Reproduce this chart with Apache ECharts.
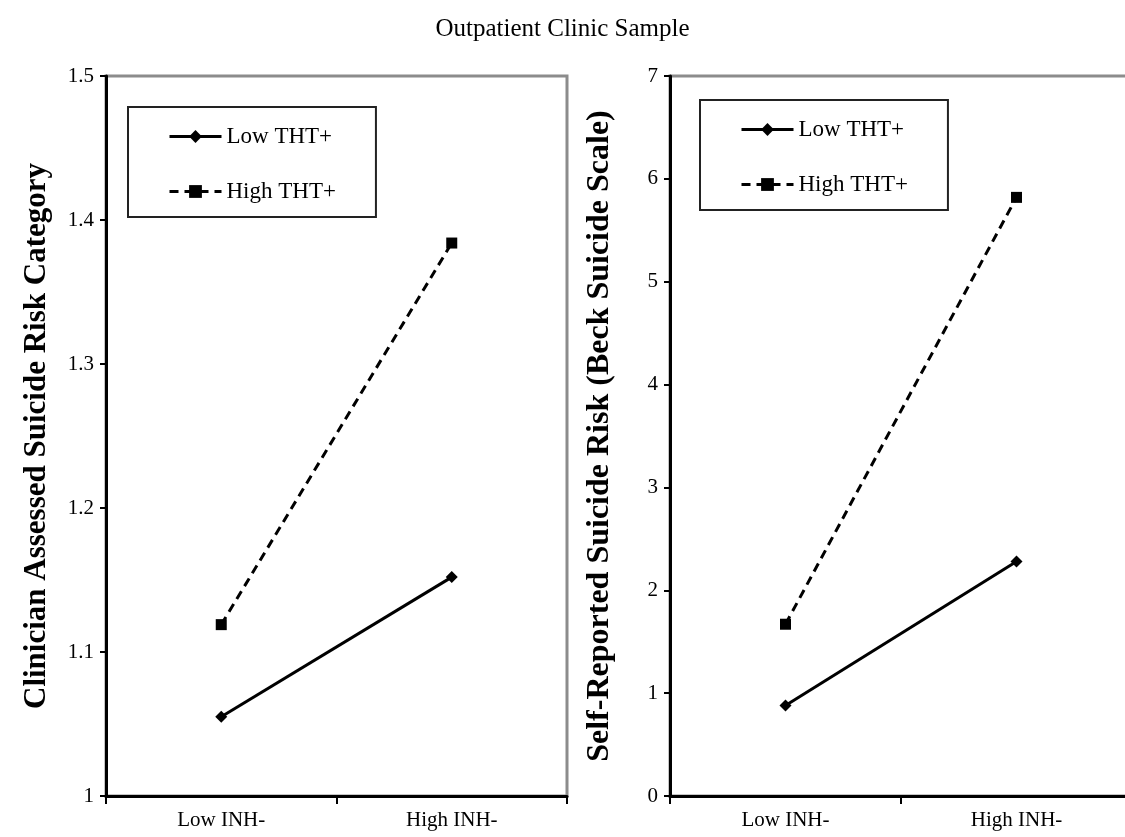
<!DOCTYPE html>
<html>
<head>
<meta charset="utf-8">
<script src="https://cdn.jsdelivr.net/npm/echarts@6/dist/echarts.min.js"></script>
<style>
  html, body { margin: 0; padding: 0; background: #fff; }
  #chart { width: 1125px; height: 837px; }
</style>
</head>
<body>
<div id="chart"></div>
<script>
// categories on both x axes
const categories = ["Low INH-", "High INH-"];
const seriesNames = ["Low THT+", "High THT+"];

// left panel: clinician assessed risk
const clinLowTHT = [1.055, 1.152];
const clinHighTHT = [1.119, 1.384];

// right panel: self-reported risk
const selfLowTHT = [0.88, 2.28];
const selfHighTHT = [1.67, 5.82];

const font = "Liberation Serif, Times New Roman, serif";

function yAxis(gridIndex, min, max, interval, name, nameSize) {
  return {
    type: "value",
    gridIndex: gridIndex,
    min: min,
    max: max,
    interval: interval,
    name: name,
    nameLocation: "middle",
    nameGap: 54,
    nameTextStyle: { fontFamily: font, fontWeight: "bold", fontSize: nameSize, color: "#000" },
    splitLine: { show: false },
    axisLine: { show: true, lineStyle: { color: "#000", width: 3 } },
    axisTick: { show: true, length: 6, lineStyle: { color: "#000", width: 2 } },
    axisLabel: { fontFamily: font, fontSize: 21, color: "#000", margin: 12 }
  };
}

function xAxis(gridIndex) {
  return {
    type: "category",
    gridIndex: gridIndex,
    data: categories,
    boundaryGap: true,
    axisLine: { lineStyle: { color: "#000", width: 3 } },
    axisTick: { show: true, length: 8, lineStyle: { color: "#000", width: 2 } },
    axisLabel: { fontFamily: font, fontSize: 21, color: "#000", margin: 14 }
  };
}

function lineSeries(name, idx, data, dashed) {
  return {
    name: name,
    type: "line",
    xAxisIndex: idx,
    yAxisIndex: idx,
    data: data,
    symbol: dashed ? "rect" : "diamond",
    symbolSize: dashed ? 11 : 12,
    itemStyle: { color: "#000" },
    lineStyle: { color: "#000", width: 3, type: dashed ? [9, 6] : "solid" }
  };
}

function legend(left, top) {
  return {
    data: seriesNames,
    orient: "vertical",
    left: left,
    top: top,
    itemWidth: 52,
    itemHeight: 16,
    itemGap: 32,
    padding: [18, 40, 14, 40],
    backgroundColor: "#fff",
    borderColor: "#222",
    borderWidth: 2,
    selectedMode: false,
    lineStyle: { width: 3 },
    textStyle: { fontFamily: font, fontSize: 23, color: "#000" }
  };
}

const chart = echarts.init(document.getElementById("chart"));
chart.setOption({
  animation: false,
  title: {
    text: "Outpatient Clinic Sample",
    left: "center",
    top: 12,
    textStyle: { fontFamily: font, fontSize: 25, fontWeight: "normal", color: "#000" }
  },
  legend: [legend(128, 107), legend(700, 100)],
  grid: [
    { left: 106, top: 76, width: 461, height: 720, show: true, borderColor: "#8c8c8c", borderWidth: 3, outerBoundsMode: "none" },
    // right panel runs past the page edge, as in the source figure
    { left: 670, top: 76, width: 462, height: 720, show: true, borderColor: "#8c8c8c", borderWidth: 3, outerBoundsMode: "none" }
  ],
  xAxis: [xAxis(0), xAxis(1)],
  yAxis: [
    yAxis(0, 1, 1.5, 0.1, "Clinician Assessed Suicide Risk Category", 31),
    yAxis(1, 0, 7, 1, "Self-Reported Suicide Risk (Beck Suicide Scale)", 32)
  ],
  series: [
    lineSeries(seriesNames[0], 0, clinLowTHT, false),
    lineSeries(seriesNames[1], 0, clinHighTHT, true),
    lineSeries(seriesNames[0], 1, selfLowTHT, false),
    lineSeries(seriesNames[1], 1, selfHighTHT, true)
  ]
});
window.addEventListener("resize", () => chart.resize(), false);
</script>
</body>
</html>
